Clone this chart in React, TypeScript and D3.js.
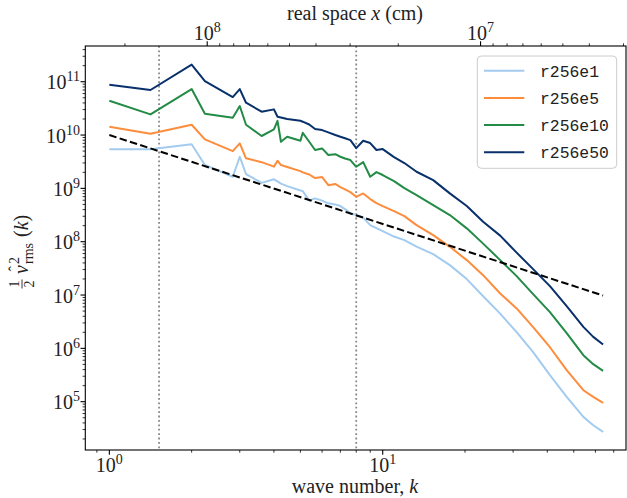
import React from "react";
import * as d3 from "d3";

const W = 627;
const H = 498;
const BOX = { left: 85.3, right: 626, top: 46, bottom: 450 };

// wave numbers (shell radii) shared by all runs
const kValues = [
  1, 1.414, 2, 2.236, 2.828, 3, 3.162, 3.606, 4, 4.123, 4.243, 4.472, 5, 5.099,
  5.385, 5.657, 6, 6.325, 6.708, 7, 7.28, 7.616, 8, 8.485, 9, 9.487, 10, 11, 12,
  13.3, 15.3, 17.6, 20.3, 23.3, 26.9, 30.9, 35.5, 40.9, 47.1, 54.2, 58.9, 64,
];

const r256e1 = [
  5.4e9, 5.4e9, 6.7e9, 2.74e9, 1.65e9, 3.92e9, 1.85e9, 1.27e9, 1.48e9, 1.35e9,
  1.23e9, 1.1e9, 9.1e8, 8.9e8, 5.9e8, 6.49e8, 5.9e8, 5.24e8, 4.97e8, 4.66e8,
  4.09e8, 3.44e8, 3.16e8, 2.83e8, 2.05e8, 1.8e8, 1.58e8, 1.25e8, 1.07e8, 8.1e7,
  5.85e7, 3.64e7, 1.99e7, 9.5e6, 4.48e6, 2.01e6, 8.5e5, 3.14e5, 1.23e5, 5.19e4,
  3.62e4, 2.71e4,
];
const r256e5 = [
  1.43e10, 1.06e10, 1.56e10, 8.3e9, 5.0e9, 6.98e9, 3.66e9, 3.1e9, 2.56e9, 3.3e9,
  2.74e9, 2.51e9, 2.11e9, 2.0e9, 1.82e9, 1.56e9, 1.63e9, 1.15e9, 1.21e9, 1.06e9,
  9.55e8, 8.51e8, 6.95e8, 8.05e8, 6.31e8, 5.3e8, 4.66e8, 3.75e8, 3.02e8, 2.05e8,
  1.33e8, 8.02e7, 4.52e7, 2.36e7, 1.07e7, 5.61e6, 2.5e6, 1.05e6, 3.9e5, 1.64e5,
  1.23e5, 9.5e4,
];
const r256e10 = [
  4.41e10, 2.44e10, 7.29e10, 2.51e10, 2.11e10, 3.5e10, 1.56e10, 9.6e9, 1.28e10,
  1.85e10, 7.48e9, 9.29e9, 7.82e9, 1.1e10, 7.48e9, 5.24e9, 5.62e9, 4.22e9,
  4.37e9, 3.92e9, 3.63e9, 3.4e9, 2.54e9, 3.11e9, 1.65e9, 2.02e9, 1.78e9, 1.37e9,
  1.01e9, 7.5e8, 4.86e8, 3.16e8, 1.78e8, 9.2e7, 4.52e7, 2.26e7, 1.04e7, 4.78e6,
  1.93e6, 7.45e5, 5.06e5, 3.78e5,
];
const r256e50 = [
  8.8e10, 7.0e10, 2.09e11, 1.03e11, 5.16e10, 7.29e10, 4.04e10, 2.74e10, 3.03e10,
  2.2e10, 2.14e10, 2.0e10, 1.85e10, 1.78e10, 1.58e10, 1.3e10, 1.24e10, 1.12e10,
  1.0e10, 9.29e9, 8.7e9, 8.05e9, 5.7e9, 7.82e9, 7.08e9, 5.25e9, 5.46e9, 3.86e9,
  2.99e9, 2.05e9, 1.43e9, 8.05e8, 4.66e8, 2.36e8, 1.3e8, 6.24e7, 3.06e7, 1.47e7,
  6.19e6, 2.53e6, 1.64e6, 1.18e6,
];

const seriesNames = ["r256e1", "r256e5", "r256e10", "r256e50"];
const seriesValues = [r256e1, r256e5, r256e10, r256e50];
const seriesColors = ["#a3cbf0", "#fd8d3c", "#238b45", "#08306b"];

// k^(-5/3) reference, end points
const refK = [1, 64];
const refV = [1e10, 9.77e6];

// dotted markers
const markK = [1.52, 8];

// axis ticks
const xMajor = [1, 10];
const xMajorExp = ["0", "1"];
const yMajor = [1e5, 1e6, 1e7, 1e8, 1e9, 1e10, 1e11];
const yMajorExp = ["5", "6", "7", "8", "9", "10", "11"];
const topMajor = [1e8, 1e7];
const topMajorExp = ["8", "7"];
const LENGTH_SCALE = 2.28e8; // real space x = LENGTH_SCALE / k

const SERIF = "'Liberation Serif', 'DejaVu Serif', serif";
const MONO = "'Liberation Mono', 'DejaVu Sans Mono', monospace";

export default function App() {
  const x = d3
    .scaleLog()
    .domain([Math.pow(10, -0.088), Math.pow(10, 1.89)])
    .range([BOX.left, BOX.right]);
  const y = d3
    .scaleLog()
    .domain([Math.pow(10, 4.094), Math.pow(10, 11.67)])
    .range([BOX.bottom, BOX.top]);
  const xTop = d3
    .scaleLog()
    .domain([LENGTH_SCALE / x.domain()[0], LENGTH_SCALE / x.domain()[1]])
    .range([BOX.left, BOX.right]);

  const line = d3
    .line<[number, number]>()
    .x((d) => x(d[0]))
    .y((d) => y(d[1]));

  const xMinor = x.ticks().filter((t) => !xMajor.some((m) => Math.abs(m - t) < 1e-9));
  const yMinor = y.ticks().filter((t) => !yMajor.some((m) => Math.abs(m / t - 1) < 1e-9));
  const topMinor = xTop.ticks().filter((t) => !topMajor.some((m) => Math.abs(m / t - 1) < 1e-9));

  return (
    <svg width={W} height={H} style={{ display: "block", position: "absolute", left: 0, top: 0 }}>
      <rect x={0} y={0} width={W} height={H} fill="white" />

      {/* dotted markers */}
      {markK.map((k) => (
        <line
          key={k}
          x1={x(k)}
          x2={x(k)}
          y1={BOX.top}
          y2={BOX.bottom}
          stroke="#888"
          strokeWidth={1.8}
          strokeDasharray="1.8,2.6"
        />
      ))}

      {/* spectra */}
      {seriesValues.map((vals, i) => (
        <path
          key={seriesNames[i]}
          d={line(kValues.map((k, j) => [k, vals[j]] as [number, number])) || ""}
          fill="none"
          stroke={seriesColors[i]}
          strokeWidth={2}
          strokeLinejoin="round"
        />
      ))}

      {/* reference slope */}
      <path
        d={line(refK.map((k, j) => [k, refV[j]] as [number, number])) || ""}
        fill="none"
        stroke="black"
        strokeWidth={2}
        strokeDasharray="7.5,3.3"
      />

      {/* frame */}
      <rect
        x={BOX.left}
        y={BOX.top}
        width={BOX.right - BOX.left}
        height={BOX.bottom - BOX.top}
        fill="none"
        stroke="black"
        strokeWidth={1.1}
      />

      {/* bottom ticks */}
      {xMajor.map((t, i) => (
        <g key={"xb" + t}>
          <line x1={x(t)} x2={x(t)} y1={BOX.bottom} y2={BOX.bottom + 4.8} stroke="black" strokeWidth={1.1} />
          <text x={x(t)} y={471.5} textAnchor="middle" fontFamily={SERIF} fontSize={20} fill="#222">
            10<tspan dy={-8} fontSize={14}>{xMajorExp[i]}</tspan>
          </text>
        </g>
      ))}
      {xMinor.map((t) => (
        <line key={"xm" + t} x1={x(t)} x2={x(t)} y1={BOX.bottom} y2={BOX.bottom + 2.7} stroke="black" strokeWidth={0.8} />
      ))}

      {/* top ticks */}
      {topMajor.map((t, i) => (
        <g key={"xt" + t}>
          <line x1={xTop(t)} x2={xTop(t)} y1={BOX.top} y2={BOX.top - 4.8} stroke="black" strokeWidth={1.1} />
          <text x={xTop(t)} y={40} textAnchor="middle" fontFamily={SERIF} fontSize={20} fill="#222">
            10<tspan dy={-8} fontSize={14}>{topMajorExp[i]}</tspan>
          </text>
        </g>
      ))}
      {topMinor.map((t) => (
        <line key={"tm" + t} x1={xTop(t)} x2={xTop(t)} y1={BOX.top} y2={BOX.top - 2.7} stroke="black" strokeWidth={0.8} />
      ))}

      {/* left ticks */}
      {yMajor.map((t, i) => (
        <g key={"yl" + t}>
          <line x1={BOX.left} x2={BOX.left - 4.8} y1={y(t)} y2={y(t)} stroke="black" strokeWidth={1.1} />
          <text x={80} y={y(t) + 7.5} textAnchor="end" fontFamily={SERIF} fontSize={20} fill="#222">
            10<tspan dy={-8} fontSize={14}>{yMajorExp[i]}</tspan>
          </text>
        </g>
      ))}
      {yMinor.map((t) => (
        <line key={"ym" + t} x1={BOX.left} x2={BOX.left - 2.7} y1={y(t)} y2={y(t)} stroke="black" strokeWidth={0.8} />
      ))}

      {/* axis labels */}
      <text x={355} y={492.5} textAnchor="middle" fontFamily={SERIF} fontSize={20} fill="#222">
        wave number, <tspan fontStyle="italic">k</tspan>
      </text>
      <text x={355} y={20} textAnchor="middle" fontFamily={SERIF} fontSize={20} fill="#222">
        real space <tspan fontStyle="italic">x</tspan> (cm)
      </text>

      <g transform="translate(22,248) rotate(-90)" fontFamily={SERIF} fill="#222">
        <text x={-36} y={-3} textAnchor="middle" fontSize={14}>1</text>
        <line x1={-40.5} x2={-31.5} y1={0} y2={0} stroke="#222" strokeWidth={0.9} />
        <text x={-36} y={12} textAnchor="middle" fontSize={14}>2</text>
        <text x={-26} y={6} fontSize={20} fontStyle="italic">v</text>
        <text x={-23.5} y={-2} fontSize={16}>ˆ</text>
        <text x={-16} y={-3} fontSize={14}>2</text>
        <text x={-16} y={11} fontSize={14}>rms</text>
        <text x={11} y={6} fontSize={20}>
          (<tspan fontStyle="italic">k</tspan>)
        </text>
      </g>

      {/* legend */}
      <rect x={477.3} y={56} width={139.4} height={112.3} rx={4} fill="white" fillOpacity={0.8} stroke="#ccc" strokeWidth={1} />
      {seriesNames.map((name, i) => (
        <g key={"lg" + name}>
          <line x1={484} x2={524.3} y1={70.7 + i * 27.2} y2={70.7 + i * 27.2} stroke={seriesColors[i]} strokeWidth={2} />
          <text x={540} y={76.5 + i * 27.2} fontFamily={MONO} fontSize={16.4} fill="#222">
            {name}
          </text>
        </g>
      ))}
    </svg>
  );
}
